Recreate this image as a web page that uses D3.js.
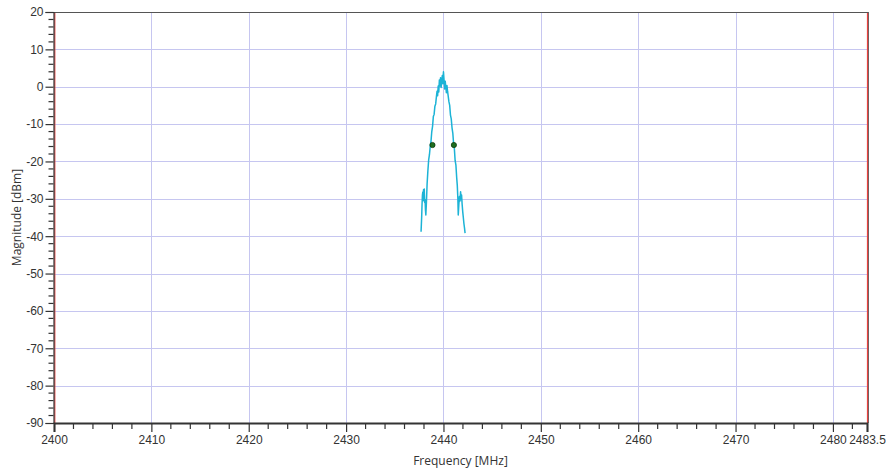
<!DOCTYPE html>
<html>
<head>
<meta charset="utf-8">
<script src="https://cdn.jsdelivr.net/npm/d3@7"></script>
<style>
  html, body { margin: 0; padding: 0; background: #fff; }
  svg { display: block; font-family: "Open Sans", "Noto Sans", sans-serif; }
</style>
</head>
<body>
<svg id="chart" width="888" height="473"></svg>
<script>
// ---- data ----
const traceFreq = [2437.70,2437.76,2437.80,2437.84,2437.88,2437.92,2437.95,2437.99,2438.03,2438.07,2438.11,2438.15,2438.19,2438.25,2438.32,2438.40,2438.48,2438.56,2438.64,2438.72,2438.80,2438.88,2438.96,2439.04,2439.12,2439.20,2439.28,2439.34,2439.40,2439.46,2439.52,2439.58,2439.64,2439.70,2439.76,2439.82,2439.88,2439.94,2440.00,2440.06,2440.12,2440.18,2440.24,2440.30,2440.36,2440.42,2440.48,2440.56,2440.64,2440.72,2440.80,2440.88,2440.96,2441.04,2441.12,2441.20,2441.28,2441.36,2441.42,2441.48,2441.52,2441.58,2441.64,2441.70,2441.76,2441.82,2441.86,2441.92,2441.98,2442.04,2442.10,2442.16,2442.22];
const traceMag = [-38.8,-35.0,-31.5,-29.0,-28.2,-30.5,-27.6,-29.8,-27.4,-31.0,-30.2,-33.0,-34.3,-31.0,-26.0,-22.5,-19.6,-18.2,-16.0,-14.6,-12.0,-10.6,-8.0,-7.4,-5.2,-4.6,-2.6,-1.2,-2.4,0.2,-1.4,1.8,0.2,2.4,-0.2,1.5,3.0,0.8,4.0,1.8,-0.6,1.5,0.0,-1.6,0.3,-1.2,-2.4,-4.0,-5.0,-7.6,-8.6,-11.0,-12.4,-15.2,-16.6,-19.8,-21.0,-24.4,-26.4,-30.0,-34.3,-31.5,-29.4,-30.6,-28.1,-30.2,-29.0,-31.5,-33.5,-35.0,-36.6,-37.8,-39.2];
const markerFreq = [2438.87, 2441.07];
const markerMag = [-15.6, -15.6];
const xTickValues = [2400,2410,2420,2430,2440,2450,2460,2470,2480,2483.5];
const yTickValues = [20,10,0,-10,-20,-30,-40,-50,-60,-70,-80,-90];
const xTitle = "Frequency [MHz]";
const yTitle = "Magnitude [dBm]";

// ---- layout ----
const svg = d3.select("#chart");
const L = 54, R = 867, T = 12, B = 423;
const x = d3.scaleLinear().domain([2400, 2483.5]).range([L, R]);
const y = d3.scaleLinear().domain([-90, 20]).range([B, T]);
const gridColor = "#c6c6f0";

// grid
const xGrid = d3.range(2410, 2481, 10);
svg.append("g").selectAll("line").data(xGrid).join("line")
  .attr("x1", d => Math.round(x(d)) + 0.5).attr("x2", d => Math.round(x(d)) + 0.5)
  .attr("y1", T).attr("y2", B)
  .attr("stroke", gridColor).attr("stroke-width", 1);
const yGrid = d3.range(-80, 20, 10);
svg.append("g").selectAll("line").data(yGrid).join("line")
  .attr("x1", L).attr("x2", R)
  .attr("y1", d => Math.round(y(d)) + 0.5).attr("y2", d => Math.round(y(d)) + 0.5)
  .attr("stroke", gridColor).attr("stroke-width", 1);

// frame
svg.append("line").attr("x1", L - 1).attr("x2", R + 1).attr("y1", T + 0.5).attr("y2", T + 0.5)
  .attr("stroke", "#555").attr("stroke-width", 1.2);
svg.append("line").attr("x1", R + 1.5).attr("x2", R + 1.5).attr("y1", T).attr("y2", B)
  .attr("stroke", "#666").attr("stroke-width", 1);
svg.append("line").attr("x1", R + 0.5).attr("x2", R + 0.5).attr("y1", T + 1).attr("y2", B)
  .attr("stroke", "#e8423f").attr("stroke-width", 1.2);
svg.append("line").attr("x1", L + 0.8).attr("x2", L + 0.8).attr("y1", T + 1).attr("y2", B)
  .attr("stroke", "#e8423f").attr("stroke-width", 1.2);

// y axis
const yAxis = d3.axisLeft(y).tickValues(yTickValues).tickSize(8).tickPadding(2)
  .tickFormat(d => String(d));
const gy = svg.append("g").attr("transform", `translate(${L - 0.5},0)`).call(yAxis);
gy.select(".domain").attr("stroke", "#333").attr("stroke-width", 1.2);
gy.selectAll(".tick line").attr("stroke", "#333").attr("stroke-width", 1.2);
gy.selectAll(".tick text").attr("fill", "#333").style("font-size", "12px");
const yMinor = d3.range(-90, 20.1, 2).filter(v => v % 10 !== 0);
gy.append("g").selectAll("line").data(yMinor).join("line")
  .attr("x1", -5).attr("x2", 0)
  .attr("y1", d => y(d)).attr("y2", d => y(d))
  .attr("stroke", "#333").attr("stroke-width", 1.2);

// x axis
const xAxis = d3.axisBottom(x).tickValues(xTickValues).tickSize(9).tickPadding(3)
  .tickFormat(d => String(d));
const gx = svg.append("g").attr("transform", `translate(0,${B})`).call(xAxis);
gx.select(".domain").attr("stroke", "#333").attr("stroke-width", 2);
gx.selectAll(".tick line").attr("stroke", "#333").attr("stroke-width", 1.2);
gx.selectAll(".tick text").attr("fill", "#333").style("font-size", "12px");
const xMinor = d3.range(2402, 2483, 2).filter(v => v % 10 !== 0);
gx.append("g").selectAll("line").data(xMinor).join("line")
  .attr("x1", d => x(d)).attr("x2", d => x(d))
  .attr("y1", 0).attr("y2", 6)
  .attr("stroke", "#333").attr("stroke-width", 1.2);

// titles
svg.append("text").attr("x", (L + R) / 2).attr("y", 465)
  .attr("text-anchor", "middle").attr("fill", "#333").style("font-size", "12px").text(xTitle);
svg.append("text").attr("transform", `translate(21,${(T + B) / 2}) rotate(-90)`)
  .attr("text-anchor", "middle").attr("fill", "#333").style("font-size", "12px").text(yTitle);

// trace
const pts = traceFreq.map((f, i) => [f, traceMag[i]]);
const line = d3.line().x(d => x(d[0])).y(d => y(d[1]));
svg.append("path").datum(pts).attr("d", line)
  .attr("fill", "none").attr("stroke", "#1cb3d6").attr("stroke-width", 1.5)
  .attr("stroke-linejoin", "round");

// markers
const mk = markerFreq.map((f, i) => [f, markerMag[i]]);
svg.append("g").selectAll("circle").data(mk).join("circle")
  .attr("cx", d => x(d[0])).attr("cy", d => y(d[1])).attr("r", 2.6)
  .attr("fill", "#1f6e1f").attr("stroke", "#0b3a0b").attr("stroke-width", 0.8);
</script>
</body>
</html>
